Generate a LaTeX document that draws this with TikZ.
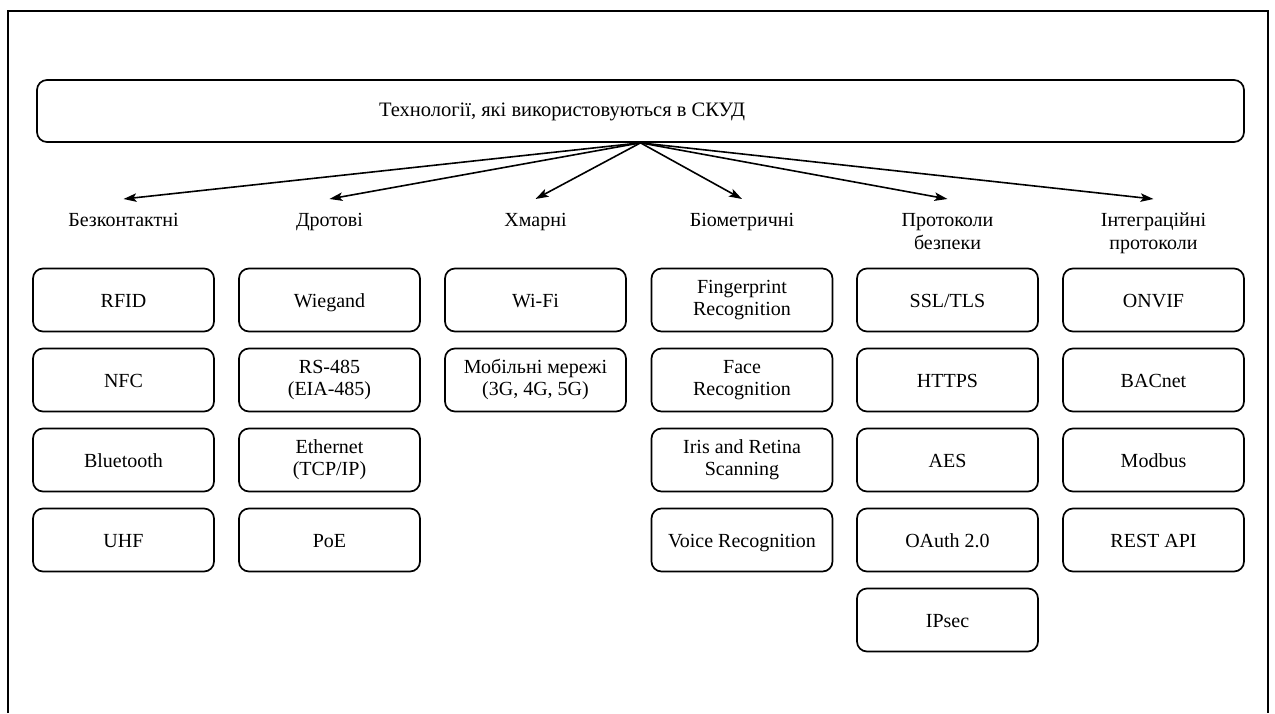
\documentclass[tikz,border=0pt]{standalone}
\usepackage{fontspec}
\setmainfont{Liberation Serif}
\usetikzlibrary{arrows.meta}

\begin{document}
\begin{tikzpicture}[x=1pt,y=-1pt,
  frame/.style={line width=2pt},
  titlebox/.style={draw, rounded corners=10pt, line width=1.7pt,
    minimum width=1207pt, minimum height=62pt, inner sep=0pt},
  titletext/.style={inner sep=0pt, font=\fontsize{20.5}{24}\selectfont},
  cat/.style={anchor=north, inner xsep=0pt, inner ysep=14pt, align=center,
    font=\fontsize{20}{23}\selectfont},
  item/.style={draw, rounded corners=10pt, line width=1.7pt,
    minimum width=181pt, minimum height=63pt, inner sep=0pt, align=center,
    font=\fontsize{20}{22}\selectfont,
    execute at begin node={\rule{0pt}{19pt}},
    execute at end node={\rule[-5pt]{0pt}{5pt}}},
  link/.style={-{Stealth[length=13pt,width=8.5pt,inset=3pt]}, line width=1.6pt}
]
\useasboundingbox (0,0) rectangle (1275,713);

% outer frame, open at the bottom
\draw[frame] (8,713) -- (8,11) -- (1268,11) -- (1268,713);

% heading
\node[titlebox] (topbox) at (640.5,111) {};
\node[titletext] (toptitle) at (562,112) {Технології, які використовуються в СКУД};

% category labels
\node[cat] (c1) at (123.5,199) {Безконтактні};
\node[cat] (c2) at (329.5,199) {Дротові};
\node[cat] (c3) at (535.5,199) {Хмарні};
\node[cat] (c4) at (742,199)   {Біометричні};
\node[cat] (c5) at (947.5,199) {Протоколи\\безпеки};
\node[cat] (c6) at (1153.5,199) {Інтеграційні\\протоколи};

\foreach \c in {c1,c2,c3,c4,c5,c6}
  \draw[link] (topbox.south) -- (\c.north);

% contactless
\node[item] (rfid) at (123.5,300) {RFID};
\node[item] (nfc)  at (123.5,380) {NFC};
\node[item] (bt)   at (123.5,460) {Bluetooth};
\node[item] (uhf)  at (123.5,540) {UHF};

% wired
\node[item] (wiegand) at (329.5,300) {Wiegand};
\node[item] (rs485)   at (329.5,380) {RS-485\\(EIA-485)};
\node[item] (eth)     at (329.5,460) {Ethernet\\(TCP/IP)};
\node[item] (poe)     at (329.5,540) {PoE};

% cloud
\node[item] (wifi)   at (535.5,300) {Wi-Fi};
\node[item] (mobile) at (535.5,380) {Мобільні мережі\\(3G, 4G, 5G)};

% biometric
\node[item] (finger) at (742,300) {Fingerprint\\Recognition};
\node[item] (face)   at (742,380) {Face\\Recognition};
\node[item] (iris)   at (742,460) {Iris and Retina\\Scanning};
\node[item] (voice)  at (742,540) {Voice Recognition};

% security protocols
\node[item] (ssl)   at (947.5,300) {SSL/TLS};
\node[item] (https) at (947.5,380) {HTTPS};
\node[item] (aes)   at (947.5,460) {AES};
\node[item] (oauth) at (947.5,540) {OAuth 2.0};
\node[item] (ipsec) at (947.5,620) {IPsec};

% integration protocols
\node[item] (onvif)  at (1153.5,300) {ONVIF};
\node[item] (bacnet) at (1153.5,380) {BACnet};
\node[item] (modbus) at (1153.5,460) {Modbus};
\node[item] (rest)   at (1153.5,540) {REST API};
\end{tikzpicture}
\end{document}
